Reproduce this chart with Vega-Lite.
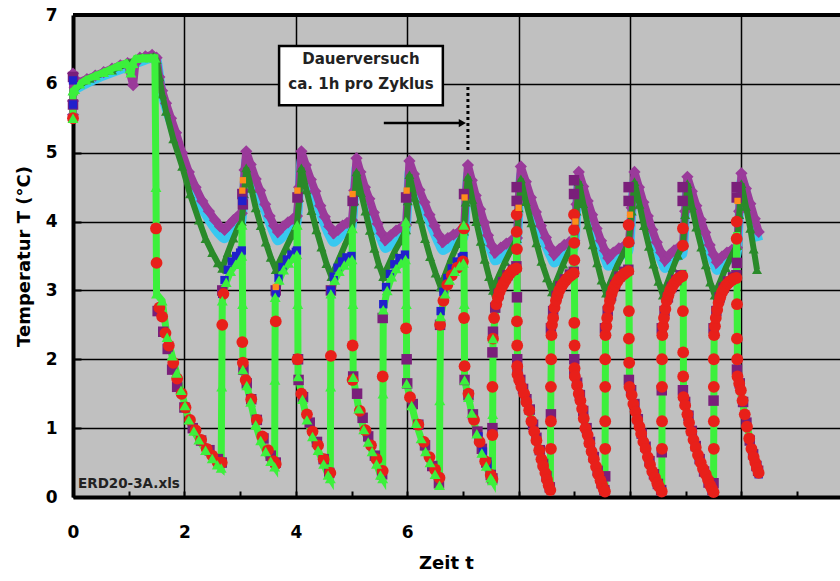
{
"$schema":"https://vega.github.io/schema/vega-lite/v6.json",
"width":767,"height":482,
"autosize":{"type":"none"},
"padding":{"left":73,"top":15,"right":0,"bottom":84},
"background":"#ffffff",
"config":{"view":{"fill":"#C0C0C0","stroke":null},
 "axis":{"domainColor":"#000","tickColor":"#000","gridColor":"#000","labelColor":"#000","titleColor":"#000","labelFont":"DejaVu Sans","titleFont":"DejaVu Sans","labelFontWeight":"bold","titleFontWeight":"bold"}},
"datasets":{
"purple":[{"t":0,"v":5.55},{"t":0,"v":5.75},{"t":0,"v":6.15},{"t":0.03,"v":5.95},{"t":0.1,"v":6.02},{"t":0.25,"v":6.07},{"t":0.4,"v":6.12},{"t":0.55,"v":6.17},{"t":0.7,"v":6.22},{"t":0.85,"v":6.27},{"t":0.98,"v":6.3},{"t":1.08,"v":5.98},{"t":1.12,"v":6.3},{"t":1.2,"v":6.38},{"t":1.3,"v":6.4},{"t":1.42,"v":6.42},{"t":1.5,"v":6.38},{"t":1.55,"v":6.1},{"t":1.6,"v":5.9},{"t":1.67,"v":5.72},{"t":1.76,"v":5.5},{"t":1.85,"v":5.29},{"t":1.96,"v":5.0},{"t":2.08,"v":4.72},{"t":2.2,"v":4.5},{"t":2.32,"v":4.3},{"t":2.44,"v":4.15},{"t":2.55,"v":4.02},{"t":2.64,"v":3.93},{"t":2.72,"v":3.88},{"t":2.8,"v":3.95},{"t":2.88,"v":4.02},{"t":2.96,"v":4.08},{"t":3.03,"v":4.12},{"t":3.06,"v":4.45},{"t":3.08,"v":4.75},{"t":3.11,"v":5.02},
{"t":3.19,"v":4.83},{"t":3.28,"v":4.62},{"t":3.36,"v":4.45},{"t":3.45,"v":4.25},{"t":3.53,"v":4.08},{"t":3.61,"v":3.94},{"t":3.68,"v":3.85},{"t":3.77,"v":3.93},{"t":3.86,"v":3.99},{"t":3.95,"v":4.04},{"t":4.02,"v":4.08},{"t":4.06,"v":4.5},{"t":4.1,"v":5.02},
{"t":4.18,"v":4.82},{"t":4.27,"v":4.61},{"t":4.35,"v":4.44},{"t":4.44,"v":4.23},{"t":4.52,"v":4.07},{"t":4.6,"v":3.93},{"t":4.68,"v":3.83},{"t":4.76,"v":3.88},{"t":4.84,"v":3.94},{"t":4.92,"v":3.98},{"t":5.01,"v":4.02},{"t":5.05,"v":4.45},{"t":5.09,"v":4.92},
{"t":5.16,"v":4.72},{"t":5.24,"v":4.5},{"t":5.32,"v":4.33},{"t":5.4,"v":4.13},{"t":5.47,"v":3.97},{"t":5.54,"v":3.83},{"t":5.61,"v":3.73},{"t":5.7,"v":3.8},{"t":5.8,"v":3.87},{"t":5.9,"v":3.92},{"t":5.98,"v":3.95},{"t":6.01,"v":4.4},{"t":6.04,"v":4.88},
{"t":6.12,"v":4.69},{"t":6.22,"v":4.46},{"t":6.31,"v":4.28},{"t":6.4,"v":4.1},{"t":6.49,"v":3.94},{"t":6.57,"v":3.8},{"t":6.64,"v":3.7},{"t":6.73,"v":3.76},{"t":6.83,"v":3.81},{"t":6.93,"v":3.85},{"t":7.02,"v":3.88},{"t":7.05,"v":4.35},{"t":7.09,"v":4.82},
{"t":7.16,"v":4.6},{"t":7.23,"v":4.38},{"t":7.31,"v":4.18},{"t":7.38,"v":3.99},{"t":7.45,"v":3.8},{"t":7.52,"v":3.65},{"t":7.58,"v":3.55},{"t":7.68,"v":3.62},{"t":7.78,"v":3.68},{"t":7.88,"v":3.73},{"t":7.97,"v":3.76},{"t":8.0,"v":4.3},{"t":8.04,"v":4.8},
{"t":8.13,"v":4.58},{"t":8.22,"v":4.35},{"t":8.31,"v":4.14},{"t":8.4,"v":3.94},{"t":8.49,"v":3.77},{"t":8.57,"v":3.62},{"t":8.64,"v":3.52},{"t":8.73,"v":3.6},{"t":8.82,"v":3.66},{"t":8.91,"v":3.7},{"t":9.0,"v":3.72},{"t":9.04,"v":4.25},{"t":9.08,"v":4.72},
{"t":9.16,"v":4.51},{"t":9.24,"v":4.3},{"t":9.32,"v":4.1},{"t":9.4,"v":3.9},{"t":9.48,"v":3.72},{"t":9.55,"v":3.58},{"t":9.61,"v":3.47},{"t":9.7,"v":3.55},{"t":9.8,"v":3.61},{"t":9.9,"v":3.65},{"t":9.98,"v":3.68},{"t":10.03,"v":4.2},{"t":10.08,"v":4.72},
{"t":10.16,"v":4.5},{"t":10.24,"v":4.28},{"t":10.32,"v":4.08},{"t":10.4,"v":3.88},{"t":10.48,"v":3.7},{"t":10.56,"v":3.55},{"t":10.63,"v":3.44},{"t":10.71,"v":3.52},{"t":10.79,"v":3.58},{"t":10.87,"v":3.62},{"t":10.95,"v":3.64},{"t":10.99,"v":4.15},{"t":11.03,"v":4.65},
{"t":11.11,"v":4.44},{"t":11.19,"v":4.23},{"t":11.27,"v":4.03},{"t":11.35,"v":3.84},{"t":11.43,"v":3.66},{"t":11.5,"v":3.52},{"t":11.56,"v":3.41},{"t":11.65,"v":3.49},{"t":11.74,"v":3.55},{"t":11.83,"v":3.59},{"t":11.92,"v":3.62},{"t":11.96,"v":4.15},{"t":12.0,"v":4.7},
{"t":12.08,"v":4.48},{"t":12.16,"v":4.26},{"t":12.24,"v":4.04},{"t":12.31,"v":3.85}],
"cyan":[{"t":0,"v":5.9},{"t":0.5,"v":6.1},{"t":1.0,"v":6.25},{"t":1.49,"v":6.38},{"t":1.6,"v":5.85},{"t":1.76,"v":5.42},{"t":1.96,"v":4.9},{"t":2.2,"v":4.38},{"t":2.44,"v":4.02},{"t":2.64,"v":3.8},{"t":2.72,"v":3.75},{"t":2.88,"v":3.9},{"t":3.03,"v":3.99},{"t":3.11,"v":4.9},
{"t":3.28,"v":4.55},{"t":3.45,"v":4.15},{"t":3.61,"v":3.82},{"t":3.68,"v":3.72},{"t":3.86,"v":3.87},{"t":4.02,"v":3.96},{"t":4.1,"v":4.9},
{"t":4.27,"v":4.54},{"t":4.44,"v":4.12},{"t":4.6,"v":3.8},{"t":4.68,"v":3.7},{"t":4.84,"v":3.82},{"t":5.01,"v":3.91},{"t":5.09,"v":4.8},
{"t":5.24,"v":4.42},{"t":5.4,"v":4.02},{"t":5.54,"v":3.72},{"t":5.61,"v":3.61},{"t":5.8,"v":3.75},{"t":5.98,"v":3.84},{"t":6.04,"v":4.75},
{"t":6.22,"v":4.38},{"t":6.4,"v":4.0},{"t":6.57,"v":3.68},{"t":6.64,"v":3.58},{"t":6.83,"v":3.69},{"t":7.02,"v":3.77},{"t":7.09,"v":4.7},
{"t":7.23,"v":4.3},{"t":7.38,"v":3.88},{"t":7.52,"v":3.54},{"t":7.58,"v":3.43},{"t":7.78,"v":3.56},{"t":7.97,"v":3.65},{"t":8.04,"v":4.68},
{"t":8.22,"v":4.27},{"t":8.4,"v":3.83},{"t":8.57,"v":3.5},{"t":8.64,"v":3.4},{"t":8.82,"v":3.54},{"t":9.0,"v":3.61},{"t":9.08,"v":4.6},
{"t":9.24,"v":4.22},{"t":9.4,"v":3.79},{"t":9.55,"v":3.46},{"t":9.61,"v":3.35},{"t":9.8,"v":3.49},{"t":9.98,"v":3.57},{"t":10.08,"v":4.6},
{"t":10.24,"v":4.2},{"t":10.4,"v":3.77},{"t":10.56,"v":3.43},{"t":10.63,"v":3.32},{"t":10.79,"v":3.46},{"t":10.95,"v":3.53},{"t":11.03,"v":4.55},
{"t":11.19,"v":4.15},{"t":11.35,"v":3.73},{"t":11.5,"v":3.4},{"t":11.56,"v":3.29},{"t":11.74,"v":3.43},{"t":11.92,"v":3.51},{"t":12.0,"v":4.6},
{"t":12.16,"v":4.18},{"t":12.31,"v":3.72}],
"green":[{"t":0,"v":5.9},{"t":0.3,"v":6.08},{"t":0.7,"v":6.2},{"t":1.0,"v":6.3},{"t":1.2,"v":6.38},{"t":1.45,"v":6.4},{"t":1.5,"v":6.35},{"t":1.55,"v":6.1},{"t":1.6,"v":5.85},{"t":1.67,"v":5.6},{"t":1.8,"v":5.2},{"t":1.96,"v":4.8},{"t":2.1,"v":4.4},{"t":2.26,"v":4.02},{"t":2.38,"v":3.75},{"t":2.5,"v":3.55},{"t":2.6,"v":3.4},{"t":2.68,"v":3.32},{"t":2.78,"v":3.55},{"t":2.88,"v":3.76},{"t":2.97,"v":3.93},{"t":3.03,"v":4.0},{"t":3.07,"v":4.4},{"t":3.11,"v":4.78},
{"t":3.2,"v":4.48},{"t":3.28,"v":4.2},{"t":3.37,"v":3.94},{"t":3.46,"v":3.7},{"t":3.55,"v":3.48},{"t":3.64,"v":3.3},{"t":3.73,"v":3.46},{"t":3.83,"v":3.63},{"t":3.93,"v":3.8},{"t":4.02,"v":3.95},{"t":4.06,"v":4.35},{"t":4.1,"v":4.78},
{"t":4.19,"v":4.46},{"t":4.28,"v":4.16},{"t":4.37,"v":3.88},{"t":4.46,"v":3.63},{"t":4.55,"v":3.39},{"t":4.64,"v":3.2},{"t":4.73,"v":3.37},{"t":4.82,"v":3.54},{"t":4.92,"v":3.73},{"t":5.01,"v":3.9},{"t":5.05,"v":4.3},{"t":5.09,"v":4.72},
{"t":5.17,"v":4.42},{"t":5.25,"v":4.15},{"t":5.33,"v":3.87},{"t":5.41,"v":3.61},{"t":5.49,"v":3.38},{"t":5.57,"v":3.2},{"t":5.67,"v":3.38},{"t":5.77,"v":3.56},{"t":5.88,"v":3.72},{"t":5.98,"v":3.88},{"t":6.01,"v":4.3},{"t":6.04,"v":4.68},
{"t":6.13,"v":4.35},{"t":6.23,"v":4.04},{"t":6.32,"v":3.75},{"t":6.41,"v":3.49},{"t":6.51,"v":3.25},{"t":6.6,"v":3.05},{"t":6.7,"v":3.27},{"t":6.8,"v":3.48},{"t":6.91,"v":3.68},{"t":7.02,"v":3.86},{"t":7.05,"v":4.28},{"t":7.09,"v":4.65},
{"t":7.17,"v":4.32},{"t":7.24,"v":4.0},{"t":7.32,"v":3.71},{"t":7.39,"v":3.45},{"t":7.47,"v":3.2},{"t":7.54,"v":3.0},{"t":7.65,"v":3.22},{"t":7.76,"v":3.42},{"t":7.87,"v":3.6},{"t":7.97,"v":3.75},{"t":8.0,"v":4.2},{"t":8.04,"v":4.62},
{"t":8.13,"v":4.29},{"t":8.23,"v":3.98},{"t":8.32,"v":3.69},{"t":8.41,"v":3.42},{"t":8.51,"v":3.18},{"t":8.6,"v":2.98},{"t":8.7,"v":3.18},{"t":8.8,"v":3.38},{"t":8.9,"v":3.56},{"t":9.0,"v":3.72},{"t":9.04,"v":4.15},{"t":9.08,"v":4.58},
{"t":9.16,"v":4.26},{"t":9.24,"v":3.95},{"t":9.33,"v":3.66},{"t":9.41,"v":3.4},{"t":9.49,"v":3.15},{"t":9.57,"v":2.96},{"t":9.67,"v":3.16},{"t":9.77,"v":3.36},{"t":9.88,"v":3.54},{"t":9.98,"v":3.7},{"t":10.03,"v":4.15},{"t":10.08,"v":4.58},
{"t":10.17,"v":4.25},{"t":10.25,"v":3.94},{"t":10.34,"v":3.64},{"t":10.42,"v":3.38},{"t":10.51,"v":3.13},{"t":10.59,"v":2.93},{"t":10.68,"v":3.13},{"t":10.77,"v":3.33},{"t":10.86,"v":3.51},{"t":10.95,"v":3.66},{"t":10.99,"v":4.1},{"t":11.03,"v":4.55},
{"t":11.11,"v":4.23},{"t":11.19,"v":3.92},{"t":11.28,"v":3.63},{"t":11.36,"v":3.37},{"t":11.44,"v":3.12},{"t":11.52,"v":2.93},{"t":11.62,"v":3.13},{"t":11.72,"v":3.33},{"t":11.82,"v":3.5},{"t":11.92,"v":3.65},{"t":11.96,"v":4.1},{"t":12.0,"v":4.55},
{"t":12.08,"v":4.22},{"t":12.16,"v":3.9},{"t":12.22,"v":3.6},{"t":12.28,"v":3.3}],
"lime":[{"t":0,"v":5.5},{"t":0,"v":5.9},{"t":0.03,"v":5.92},{"t":0.12,"v":6.0},{"t":0.23,"v":6.06},{"t":0.4,"v":6.12},{"t":0.55,"v":6.17},{"t":0.65,"v":6.2},{"t":0.8,"v":6.26},{"t":0.95,"v":6.3},{"t":1.02,"v":6.22},{"t":1.04,"v":6.16},{"t":1.08,"v":6.3},{"t":1.13,"v":6.37},{"t":1.25,"v":6.38},{"t":1.4,"v":6.38},{"t":1.47,"v":6.38},{"t":1.49,"v":4.5},{"t":1.5,"v":2.95},{"t":1.6,"v":2.85},{"t":1.69,"v":2.32},{"t":1.78,"v":2.05},{"t":1.86,"v":1.8},{"t":1.94,"v":1.55},{"t":2.01,"v":1.33},{"t":2.08,"v":1.12},{"t":2.17,"v":0.96},{"t":2.26,"v":0.83},{"t":2.38,"v":0.68},{"t":2.5,"v":0.56},{"t":2.59,"v":0.47},{"t":2.66,"v":0.42},
{"t":2.67,"v":1.6},{"t":2.68,"v":2.85},{"t":2.75,"v":3.12},{"t":2.83,"v":3.28},{"t":2.92,"v":3.38},{"t":3.0,"v":3.44},{"t":3.03,"v":3.5},{"t":3.035,"v":3.95},{"t":3.045,"v":2.8},{"t":3.05,"v":1.85},{"t":3.12,"v":1.62},{"t":3.19,"v":1.38},{"t":3.28,"v":1.05},{"t":3.37,"v":0.82},{"t":3.46,"v":0.66},{"t":3.55,"v":0.52},{"t":3.62,"v":0.44},
{"t":3.625,"v":1.7},{"t":3.63,"v":2.9},{"t":3.7,"v":3.15},{"t":3.78,"v":3.3},{"t":3.87,"v":3.4},{"t":3.95,"v":3.47},{"t":4.02,"v":3.52},{"t":4.025,"v":3.95},{"t":4.035,"v":2.8},{"t":4.04,"v":1.75},{"t":4.12,"v":1.42},{"t":4.2,"v":1.12},{"t":4.3,"v":0.88},{"t":4.4,"v":0.68},{"t":4.5,"v":0.48},{"t":4.58,"v":0.32},{"t":4.62,"v":0.27},
{"t":4.625,"v":1.6},{"t":4.63,"v":2.95},{"t":4.7,"v":3.15},{"t":4.78,"v":3.28},{"t":4.87,"v":3.37},{"t":4.95,"v":3.42},{"t":5.01,"v":3.45},{"t":5.015,"v":3.9},{"t":5.025,"v":2.8},{"t":5.03,"v":1.74},{"t":5.13,"v":1.28},{"t":5.22,"v":0.98},{"t":5.3,"v":0.8},{"t":5.37,"v":0.66},{"t":5.45,"v":0.48},{"t":5.52,"v":0.32},{"t":5.56,"v":0.27},
{"t":5.565,"v":1.5},{"t":5.57,"v":2.72},{"t":5.64,"v":3.0},{"t":5.72,"v":3.2},{"t":5.8,"v":3.32},{"t":5.89,"v":3.4},{"t":5.97,"v":3.45},{"t":5.975,"v":4.0},{"t":5.985,"v":2.8},{"t":5.99,"v":1.65},{"t":6.08,"v":1.33},{"t":6.16,"v":1.07},{"t":6.25,"v":0.85},{"t":6.33,"v":0.66},{"t":6.41,"v":0.5},{"t":6.5,"v":0.33},{"t":6.58,"v":0.17},
{"t":6.585,"v":1.4},{"t":6.6,"v":2.62},{"t":6.68,"v":2.95},{"t":6.76,"v":3.15},{"t":6.85,"v":3.28},{"t":6.94,"v":3.36},{"t":7.01,"v":3.4},{"t":7.015,"v":3.95},{"t":7.025,"v":2.8},{"t":7.03,"v":1.7},{"t":7.1,"v":1.45},{"t":7.16,"v":1.22},{"t":7.25,"v":0.92},{"t":7.34,"v":0.64},{"t":7.42,"v":0.45},{"t":7.5,"v":0.28},{"t":7.53,"v":0.24},
{"t":7.535,"v":1.2},{"t":7.54,"v":2.3},{"t":7.6,"v":2.8},{"t":7.73,"v":3.1},{"t":7.88,"v":3.28},{"t":7.96,"v":3.32},{"t":7.965,"v":3.9},{"t":7.975,"v":2.8},{"t":7.98,"v":1.7},{"t":8.1,"v":1.5},{"t":8.19,"v":1.26},{"t":8.28,"v":0.95},{"t":8.37,"v":0.68},{"t":8.44,"v":0.45},{"t":8.51,"v":0.25},{"t":8.57,"v":0.1},
{"t":8.575,"v":1.2},{"t":8.59,"v":2.35},{"t":8.67,"v":2.85},{"t":8.8,"v":3.1},{"t":8.94,"v":3.22},{"t":8.99,"v":3.25},{"t":8.995,"v":3.8},{"t":9.005,"v":2.8},{"t":9.01,"v":1.75},{"t":9.14,"v":1.28},{"t":9.27,"v":0.78},{"t":9.43,"v":0.33},{"t":9.55,"v":0.08},
{"t":9.555,"v":1.2},{"t":9.56,"v":2.35},{"t":9.64,"v":2.85},{"t":9.77,"v":3.13},{"t":9.91,"v":3.25},{"t":9.97,"v":3.28},{"t":9.975,"v":3.65},{"t":9.985,"v":2.6},{"t":9.99,"v":1.6},{"t":10.13,"v":1.12},{"t":10.28,"v":0.7},{"t":10.45,"v":0.28},{"t":10.57,"v":0.08},
{"t":10.575,"v":1.2},{"t":10.58,"v":2.35},{"t":10.66,"v":2.85},{"t":10.79,"v":3.1},{"t":10.92,"v":3.2},{"t":10.95,"v":3.25},{"t":10.955,"v":3.3},{"t":10.96,"v":1.45},{"t":11.1,"v":0.95},{"t":11.27,"v":0.5},{"t":11.44,"v":0.17},{"t":11.5,"v":0.07},
{"t":11.505,"v":1.2},{"t":11.51,"v":2.35},{"t":11.59,"v":2.82},{"t":11.72,"v":3.07},{"t":11.86,"v":3.17},{"t":11.91,"v":3.18},{"t":11.915,"v":3.85},{"t":11.925,"v":2.6},{"t":11.93,"v":1.75},{"t":12.06,"v":1.2},{"t":12.22,"v":0.58},{"t":12.31,"v":0.35}],
"psq":[{"t":0,"v":5.7},{"t":0,"v":6.1},{"t":1.52,"v":2.7},{"t":1.62,"v":2.4},{"t":1.7,"v":2.15},{"t":1.78,"v":1.85},{"t":1.87,"v":1.6},{"t":2.0,"v":1.3},{"t":2.15,"v":1.0},{"t":2.3,"v":0.82},{"t":2.45,"v":0.68},{"t":2.6,"v":0.55},{"t":2.67,"v":0.5},{"t":2.68,"v":3.0},{"t":3.04,"v":4.4},{"t":3.05,"v":4.25},{"t":3.06,"v":1.85},{"t":3.12,"v":1.65},{"t":3.2,"v":1.42},{"t":3.3,"v":1.12},{"t":3.42,"v":0.85},{"t":3.55,"v":0.6},{"t":3.64,"v":0.5},{"t":3.64,"v":3.0},{"t":4.03,"v":4.35},{"t":4.04,"v":2.0},{"t":4.05,"v":1.7},{"t":4.13,"v":1.45},{"t":4.25,"v":1.08},{"t":4.38,"v":0.8},{"t":4.5,"v":0.55},{"t":4.6,"v":0.35},{"t":4.63,"v":3.0},{"t":5.02,"v":4.3},{"t":5.03,"v":1.75},{"t":5.1,"v":1.5},{"t":5.2,"v":1.15},{"t":5.3,"v":0.88},{"t":5.42,"v":0.6},{"t":5.55,"v":0.33},{"t":5.56,"v":2.6},{"t":5.98,"v":4.35},{"t":5.99,"v":2.0},{"t":6.0,"v":1.65},{"t":6.1,"v":1.35},{"t":6.2,"v":1.05},{"t":6.32,"v":0.75},{"t":6.45,"v":0.45},{"t":6.57,"v":0.2},{"t":6.59,"v":2.5},{"t":7.02,"v":4.4},{"t":7.03,"v":1.7},{"t":7.1,"v":1.48},{"t":7.18,"v":1.2},{"t":7.26,"v":0.95},{"t":7.34,"v":0.7},{"t":7.42,"v":0.5},{"t":7.5,"v":0.32},{"t":7.53,"v":0.27},{"t":7.53,"v":1.0},{"t":7.53,"v":2.1},
{"t":7.54,"v":2.4},{"t":7.58,"v":2.75},{"t":7.64,"v":2.95},{"t":7.72,"v":3.12},{"t":7.8,"v":3.22},{"t":7.9,"v":3.3},{"t":7.96,"v":3.35},{"t":7.965,"v":4.5},{"t":7.965,"v":4.3},{"t":7.97,"v":2.9},{"t":7.975,"v":2.0},{"t":7.98,"v":1.85},{"t":8.03,"v":1.7},{"t":8.08,"v":1.57},{"t":8.14,"v":1.42},{"t":8.2,"v":1.27},{"t":8.26,"v":1.05},{"t":8.32,"v":0.86},{"t":8.38,"v":0.68},{"t":8.44,"v":0.48},{"t":8.5,"v":0.3},{"t":8.56,"v":0.14},{"t":8.58,"v":1.2},
{"t":8.58,"v":2.45},{"t":8.62,"v":2.7},{"t":8.68,"v":2.92},{"t":8.75,"v":3.06},{"t":8.83,"v":3.16},{"t":8.92,"v":3.23},{"t":8.99,"v":3.27},{"t":8.995,"v":4.6},{"t":8.995,"v":4.4},{"t":9.0,"v":2.0},{"t":9.0,"v":1.8},{"t":9.05,"v":1.66},{"t":9.1,"v":1.48},{"t":9.16,"v":1.25},{"t":9.22,"v":1.0},{"t":9.28,"v":0.8},{"t":9.35,"v":0.58},{"t":9.42,"v":0.38},{"t":9.49,"v":0.2},{"t":9.54,"v":0.1},{"t":9.555,"v":0.3},
{"t":9.55,"v":2.45},{"t":9.6,"v":2.7},{"t":9.66,"v":2.92},{"t":9.73,"v":3.08},{"t":9.81,"v":3.2},{"t":9.9,"v":3.27},{"t":9.97,"v":3.3},{"t":9.975,"v":4.5},{"t":9.975,"v":4.3},{"t":9.98,"v":1.7},{"t":10.02,"v":1.55},{"t":10.08,"v":1.35},{"t":10.14,"v":1.13},{"t":10.21,"v":0.92},{"t":10.28,"v":0.73},{"t":10.35,"v":0.52},{"t":10.43,"v":0.33},{"t":10.5,"v":0.19},{"t":10.56,"v":0.1},{"t":10.57,"v":0.65},{"t":10.57,"v":1.55},
{"t":10.57,"v":2.45},{"t":10.62,"v":2.7},{"t":10.68,"v":2.9},{"t":10.75,"v":3.05},{"t":10.83,"v":3.15},{"t":10.91,"v":3.22},{"t":10.945,"v":4.5},{"t":10.945,"v":4.3},{"t":10.95,"v":1.55},{"t":10.99,"v":1.38},{"t":11.05,"v":1.18},{"t":11.11,"v":0.96},{"t":11.18,"v":0.74},{"t":11.25,"v":0.55},{"t":11.33,"v":0.37},{"t":11.41,"v":0.21},{"t":11.48,"v":0.1},{"t":11.5,"v":0.2},{"t":11.5,"v":1.4},
{"t":11.5,"v":2.45},{"t":11.55,"v":2.7},{"t":11.61,"v":2.9},{"t":11.68,"v":3.04},{"t":11.76,"v":3.13},{"t":11.85,"v":3.19},{"t":11.91,"v":3.22},{"t":11.915,"v":4.5},{"t":11.915,"v":4.35},{"t":11.92,"v":3.4},{"t":11.92,"v":1.85},{"t":11.97,"v":1.65},{"t":12.03,"v":1.38},{"t":12.09,"v":1.08},{"t":12.15,"v":0.82},{"t":12.21,"v":0.62},{"t":12.27,"v":0.45},{"t":12.3,"v":0.38}],
"blue":[{"t":0,"v":6.05},{"t":0,"v":5.7},{"t":2.68,"v":2.95},{"t":2.72,"v":3.15},{"t":2.78,"v":3.3},{"t":2.85,"v":3.42},{"t":2.93,"v":3.5},{"t":3.0,"v":3.55},{"t":3.03,"v":3.58},{"t":3.04,"v":4.3},
{"t":3.64,"v":2.96},{"t":3.69,"v":3.18},{"t":3.76,"v":3.34},{"t":3.84,"v":3.45},{"t":3.92,"v":3.52},{"t":4.0,"v":3.56},{"t":4.02,"v":3.58},
{"t":4.63,"v":3.0},{"t":4.68,"v":3.2},{"t":4.75,"v":3.33},{"t":4.83,"v":3.42},{"t":4.91,"v":3.48},{"t":5.0,"v":3.5},
{"t":5.57,"v":2.8},{"t":5.62,"v":3.05},{"t":5.69,"v":3.24},{"t":5.77,"v":3.38},{"t":5.86,"v":3.47},{"t":5.96,"v":3.52},
{"t":6.6,"v":2.7},{"t":6.65,"v":2.98},{"t":6.72,"v":3.18},{"t":6.8,"v":3.32},{"t":6.89,"v":3.42},{"t":6.98,"v":3.48},{"t":7.01,"v":3.5},
{"t":7.2,"v":1.12},{"t":7.28,"v":0.88},{"t":7.36,"v":0.66},{"t":7.44,"v":0.47},{"t":7.5,"v":0.33},{"t":7.52,"v":0.29},
{"t":8.57,"v":0.12},{"t":9.55,"v":0.1},{"t":10.57,"v":0.1},{"t":12.31,"v":0.33},{"t":12.3,"v":0.36}],
"red":[{"t":0,"v":5.5},{"t":1.49,"v":3.9},{"t":1.5,"v":3.4},{"t":1.55,"v":2.75},{"t":1.6,"v":2.62},{"t":1.66,"v":2.38},{"t":1.72,"v":2.2},{"t":1.8,"v":1.95},{"t":1.87,"v":1.72},{"t":1.95,"v":1.5},{"t":2.02,"v":1.3},{"t":2.1,"v":1.12},{"t":2.2,"v":0.97},{"t":2.3,"v":0.83},{"t":2.4,"v":0.7},{"t":2.5,"v":0.6},{"t":2.6,"v":0.5},{"t":2.67,"v":0.5},{"t":2.68,"v":2.5},{"t":2.7,"v":2.95},{"t":3.04,"v":2.25},{"t":3.05,"v":1.95},{"t":3.1,"v":1.7},{"t":3.2,"v":1.42},{"t":3.3,"v":1.12},{"t":3.4,"v":0.88},{"t":3.5,"v":0.68},{"t":3.6,"v":0.52},{"t":3.64,"v":0.48},{"t":3.64,"v":2.55},{"t":4.03,"v":2.0},{"t":4.1,"v":1.5},{"t":4.2,"v":1.2},{"t":4.3,"v":0.95},{"t":4.4,"v":0.75},{"t":4.5,"v":0.55},{"t":4.62,"v":0.35},{"t":4.63,"v":2.05},{"t":5.02,"v":1.7},{"t":5.02,"v":2.2},{"t":5.15,"v":1.25},{"t":5.25,"v":0.97},{"t":5.35,"v":0.75},{"t":5.45,"v":0.55},{"t":5.56,"v":0.38},{"t":5.56,"v":1.75},{"t":5.98,"v":2.45},{"t":6.05,"v":1.45},{"t":6.2,"v":1.05},{"t":6.3,"v":0.8},{"t":6.4,"v":0.58},{"t":6.5,"v":0.4},{"t":6.58,"v":0.28},{"t":6.59,"v":2.5},{"t":6.65,"v":2.85},{"t":6.72,"v":3.08},{"t":6.8,"v":3.22},{"t":6.9,"v":3.33},{"t":7.0,"v":3.42},{"t":7.02,"v":3.9},{"t":7.02,"v":2.6},{"t":7.03,"v":1.9},{"t":7.1,"v":1.5},{"t":7.2,"v":1.12},{"t":7.3,"v":0.8},{"t":7.4,"v":0.52},{"t":7.5,"v":0.32},{"t":7.53,"v":0.26},{"t":7.53,"v":0.9},{"t":7.53,"v":1.6},
{"t":7.54,"v":2.3},{"t":7.56,"v":2.6},{"t":7.6,"v":2.8},{"t":7.63,"v":2.9},{"t":7.66,"v":2.98},{"t":7.7,"v":3.05},{"t":7.73,"v":3.1},{"t":7.77,"v":3.15},{"t":7.8,"v":3.2},{"t":7.84,"v":3.24},{"t":7.88,"v":3.28},{"t":7.92,"v":3.3},{"t":7.96,"v":3.32},
{"t":7.965,"v":4.1},{"t":7.965,"v":3.85},{"t":7.97,"v":3.6},{"t":7.97,"v":2.55},{"t":7.975,"v":2.2},{"t":7.975,"v":1.9},
{"t":7.98,"v":1.78},{"t":8.01,"v":1.7},{"t":8.05,"v":1.6},{"t":8.1,"v":1.5},{"t":8.14,"v":1.38},{"t":8.19,"v":1.26},{"t":8.23,"v":1.1},{"t":8.28,"v":0.95},{"t":8.32,"v":0.82},{"t":8.37,"v":0.68},{"t":8.41,"v":0.55},{"t":8.44,"v":0.45},{"t":8.48,"v":0.35},{"t":8.51,"v":0.25},{"t":8.54,"v":0.17},{"t":8.57,"v":0.1},
{"t":8.58,"v":0.7},{"t":8.58,"v":1.1},{"t":8.58,"v":1.6},{"t":8.585,"v":2.0},
{"t":8.59,"v":2.35},{"t":8.6,"v":2.5},{"t":8.62,"v":2.6},{"t":8.645,"v":2.75},{"t":8.67,"v":2.85},{"t":8.7,"v":2.93},{"t":8.73,"v":3.0},{"t":8.77,"v":3.06},{"t":8.8,"v":3.1},{"t":8.84,"v":3.14},{"t":8.87,"v":3.17},{"t":8.91,"v":3.2},{"t":8.94,"v":3.22},{"t":8.99,"v":3.25},
{"t":8.995,"v":4.1},{"t":8.995,"v":3.88},{"t":9.0,"v":3.69},{"t":9.0,"v":3.44},{"t":9.0,"v":2.53},{"t":9.005,"v":2.2},{"t":9.005,"v":1.87},
{"t":9.01,"v":1.75},{"t":9.05,"v":1.62},{"t":9.08,"v":1.5},{"t":9.11,"v":1.4},{"t":9.14,"v":1.28},{"t":9.17,"v":1.14},{"t":9.2,"v":1.0},{"t":9.24,"v":0.9},{"t":9.27,"v":0.78},{"t":9.31,"v":0.66},{"t":9.35,"v":0.55},{"t":9.39,"v":0.44},{"t":9.43,"v":0.33},{"t":9.47,"v":0.24},{"t":9.5,"v":0.17},{"t":9.53,"v":0.11},{"t":9.55,"v":0.08},
{"t":9.555,"v":0.7},{"t":9.555,"v":1.1},{"t":9.555,"v":1.6},{"t":9.555,"v":2.0},
{"t":9.56,"v":2.35},{"t":9.575,"v":2.48},{"t":9.59,"v":2.6},{"t":9.615,"v":2.75},{"t":9.64,"v":2.85},{"t":9.67,"v":2.95},{"t":9.7,"v":3.02},{"t":9.735,"v":3.08},{"t":9.77,"v":3.13},{"t":9.8,"v":3.17},{"t":9.84,"v":3.2},{"t":9.88,"v":3.23},{"t":9.91,"v":3.25},{"t":9.97,"v":3.28},
{"t":9.975,"v":3.95},{"t":9.975,"v":3.7},{"t":9.98,"v":2.7},{"t":9.98,"v":2.3},{"t":9.985,"v":1.95},
{"t":9.99,"v":1.6},{"t":10.03,"v":1.48},{"t":10.06,"v":1.35},{"t":10.1,"v":1.24},{"t":10.13,"v":1.12},{"t":10.17,"v":1.02},{"t":10.2,"v":0.92},{"t":10.24,"v":0.8},{"t":10.28,"v":0.7},{"t":10.32,"v":0.58},{"t":10.36,"v":0.47},{"t":10.4,"v":0.37},{"t":10.45,"v":0.28},{"t":10.49,"v":0.2},{"t":10.52,"v":0.15},{"t":10.57,"v":0.08},
{"t":10.575,"v":0.7},{"t":10.575,"v":1.1},{"t":10.575,"v":1.6},{"t":10.575,"v":2.0},
{"t":10.58,"v":2.35},{"t":10.595,"v":2.48},{"t":10.61,"v":2.6},{"t":10.635,"v":2.73},{"t":10.66,"v":2.85},{"t":10.69,"v":2.93},{"t":10.72,"v":3.0},{"t":10.755,"v":3.05},{"t":10.79,"v":3.1},{"t":10.83,"v":3.14},{"t":10.86,"v":3.17},{"t":10.9,"v":3.19},{"t":10.94,"v":3.21},
{"t":10.95,"v":3.9},{"t":10.95,"v":3.65},{"t":10.95,"v":2.7},{"t":10.955,"v":2.1},{"t":10.955,"v":1.75},
{"t":10.96,"v":1.45},{"t":10.99,"v":1.33},{"t":11.03,"v":1.2},{"t":11.06,"v":1.08},{"t":11.1,"v":0.95},{"t":11.14,"v":0.83},{"t":11.18,"v":0.72},{"t":11.22,"v":0.61},{"t":11.27,"v":0.5},{"t":11.31,"v":0.41},{"t":11.36,"v":0.33},{"t":11.4,"v":0.25},{"t":11.44,"v":0.17},{"t":11.47,"v":0.12},{"t":11.5,"v":0.07},
{"t":11.505,"v":0.7},{"t":11.505,"v":1.1},{"t":11.505,"v":1.6},{"t":11.505,"v":2.0},
{"t":11.51,"v":2.35},{"t":11.525,"v":2.48},{"t":11.54,"v":2.6},{"t":11.565,"v":2.72},{"t":11.59,"v":2.82},{"t":11.62,"v":2.9},{"t":11.65,"v":2.97},{"t":11.685,"v":3.02},{"t":11.72,"v":3.07},{"t":11.755,"v":3.1},{"t":11.79,"v":3.13},{"t":11.83,"v":3.15},{"t":11.86,"v":3.17},{"t":11.91,"v":3.18},
{"t":11.915,"v":4.0},{"t":11.915,"v":3.75},{"t":11.92,"v":2.8},{"t":11.92,"v":2.3},{"t":11.925,"v":2.0},
{"t":11.93,"v":1.75},{"t":11.96,"v":1.65},{"t":11.99,"v":1.55},{"t":12.02,"v":1.4},{"t":12.06,"v":1.2},{"t":12.1,"v":1.02},{"t":12.14,"v":0.85},{"t":12.18,"v":0.7},{"t":12.22,"v":0.58},{"t":12.25,"v":0.5},{"t":12.28,"v":0.42},{"t":12.31,"v":0.35}],
"orange":[{"t":3.04,"v":4.45},{"t":3.05,"v":4.6},{"t":3.64,"v":3.05},{"t":4.03,"v":4.45},{"t":5.02,"v":4.4},{"t":5.99,"v":4.45},{"t":7.03,"v":4.35},{"t":8.0,"v":4.2},{"t":9.02,"v":4.0},{"t":10.0,"v":4.1},{"t":11.93,"v":4.3}]
},
"layer":[
{"data":{"name":"cyan"},"mark":{"type":"line","color":"#38c8f0","strokeWidth":9,"interpolate":"monotone"},
 "encoding":{
  "x":{"field":"t","type":"quantitative","scale":{"domain":[0,13.77],"nice":false,"zero":false},
   "axis":{"orient":"bottom","values":[0,0.5,1,1.5,2,2.5,3,3.5,4,4.5,5,5.5,6,6.5,7,7.5,8,8.5,9,9.5,10,10.5,11,11.5,12,12.5,13,13.5],"format":"d",
    "grid":true,"gridWidth":1.5,"gridOpacity":{"condition":{"test":"datum.value % 2 === 0","value":1},"value":0},
    "ticks":true,"tickSize":-6,"tickWidth":2,"domain":true,"domainWidth":4,
    "labelExpr":"(datum.value % 2 === 0 && datum.value <= 6) ? datum.label : ''","labelFontSize":17,"labelPadding":33,"labelFlush":false,"labelOverlap":false,
    "title":"Zeit t","titleFontSize":18,"titlePadding":14,"titleX":373}},
  "y":{"field":"v","type":"quantitative","scale":{"domain":[0,7],"nice":false,"zero":false},
   "axis":{"orient":"left","values":[0,0.5,1,1.5,2,2.5,3,3.5,4,4.5,5,5.5,6,6.5,7],"format":"d",
    "grid":true,"gridWidth":1.5,"gridOpacity":{"condition":{"test":"datum.value % 1 === 0","value":1},"value":0},
    "ticks":true,"tickSize":-8,"tickWidth":2,"domain":true,"domainWidth":4,
    "labelExpr":"datum.value % 1 === 0 ? datum.label : ''","labelFontSize":17,"labelPadding":24,"labelFlush":false,"labelOverlap":false,
    "title":"Temperatur T (°C)","titleFontSize":18,"titlePadding":12}},
  "order":{"value":null}}},
{"data":{"name":"purple"},"mark":{"type":"line","color":"#9a3a9a","strokeWidth":8},
 "encoding":{"x":{"field":"t","type":"quantitative"},"y":{"field":"v","type":"quantitative"},"order":{"value":null}}},
{"data":{"name":"purple"},"mark":{"type":"point","shape":"diamond","filled":true,"color":"#9a3a9a","size":150,"opacity":1},
 "encoding":{"x":{"field":"t","type":"quantitative"},"y":{"field":"v","type":"quantitative"}}},
{"data":{"name":"green"},"mark":{"type":"line","color":"#2a8a2a","strokeWidth":6},
 "encoding":{"x":{"field":"t","type":"quantitative"},"y":{"field":"v","type":"quantitative"},"order":{"value":null}}},
{"data":{"name":"green"},"mark":{"type":"point","shape":"triangle-up","filled":true,"color":"#2a8a2a","size":100,"opacity":1},
 "encoding":{"x":{"field":"t","type":"quantitative"},"y":{"field":"v","type":"quantitative"}}},
{"data":{"name":"lime"},"mark":{"type":"line","color":"#3cf03c","strokeWidth":7},
 "encoding":{"x":{"field":"t","type":"quantitative"},"y":{"field":"v","type":"quantitative"},"order":{"value":null}}},
{"data":{"name":"psq"},"mark":{"type":"point","shape":"square","filled":true,"color":"#7a1f7a","size":110,"opacity":1},
 "encoding":{"x":{"field":"t","type":"quantitative"},"y":{"field":"v","type":"quantitative"}}},
{"data":{"name":"blue"},"mark":{"type":"point","shape":"square","filled":true,"color":"#2020cc","size":70,"opacity":1},
 "encoding":{"x":{"field":"t","type":"quantitative"},"y":{"field":"v","type":"quantitative"}}},
{"data":{"name":"red"},"mark":{"type":"point","shape":"circle","filled":true,"color":"#e8201a","size":140,"opacity":1},
 "encoding":{"x":{"field":"t","type":"quantitative"},"y":{"field":"v","type":"quantitative"}}},
{"data":{"name":"lime"},"transform":[{"filter":"datum.t <= 7.56"}],"mark":{"type":"point","shape":"triangle-up","filled":true,"color":"#3cf03c","size":120,"opacity":1},
 "encoding":{"x":{"field":"t","type":"quantitative"},"y":{"field":"v","type":"quantitative"}}},
{"data":{"name":"orange"},"mark":{"type":"point","shape":"square","filled":true,"color":"#ff8c1a","size":40,"opacity":1},
 "encoding":{"x":{"field":"t","type":"quantitative"},"y":{"field":"v","type":"quantitative"}}},
{"data":{"values":[{"n":1}]},"mark":{"type":"rule","color":"#000","strokeWidth":4},
 "encoding":{"y":{"datum":7,"type":"quantitative"}}},
{"data":{"values":[{"n":1}]},"mark":{"type":"rect","fill":"#ffffff","stroke":"#000","strokeWidth":2.5},
 "encoding":{"x":{"datum":3.7,"type":"quantitative"},"x2":{"datum":6.64},"y":{"datum":5.69,"type":"quantitative"},"y2":{"datum":6.55}}},
{"data":{"values":[{"n":1}]},"mark":{"type":"text","font":"DejaVu Sans","fontWeight":"bold","fontSize":15,"color":"#222","align":"center","baseline":"middle"},
 "encoding":{"x":{"datum":5.17,"type":"quantitative"},"y":{"datum":6.36,"type":"quantitative"},"text":{"value":"Dauerversuch"}}},
{"data":{"values":[{"n":1}]},"mark":{"type":"text","font":"DejaVu Sans","fontWeight":"bold","fontSize":15,"color":"#222","align":"center","baseline":"middle"},
 "encoding":{"x":{"datum":5.17,"type":"quantitative"},"y":{"datum":6.0,"type":"quantitative"},"text":{"value":"ca. 1h pro Zyklus"}}},
{"data":{"values":[{"n":1}]},"mark":{"type":"rule","color":"#000","strokeWidth":2.5},
 "encoding":{"x":{"datum":5.58,"type":"quantitative"},"x2":{"datum":6.98},"y":{"datum":5.43,"type":"quantitative"}}},
{"data":{"values":[{"n":1}]},"mark":{"type":"point","shape":"triangle-right","filled":true,"color":"#000","size":70,"opacity":1},
 "encoding":{"x":{"datum":6.99,"type":"quantitative"},"y":{"datum":5.43,"type":"quantitative"}}},
{"data":{"values":[{"n":1}]},"mark":{"type":"rule","color":"#000","strokeWidth":3,"strokeDash":[3,3]},
 "encoding":{"x":{"datum":7.09,"type":"quantitative"},"y":{"datum":5.04,"type":"quantitative"},"y2":{"datum":5.99}}},
{"data":{"values":[{"n":1}]},"mark":{"type":"text","font":"DejaVu Sans","fontWeight":"bold","fontSize":13.5,"color":"#222","align":"left","baseline":"middle"},
 "encoding":{"x":{"datum":0.09,"type":"quantitative"},"y":{"datum":0.19,"type":"quantitative"},"text":{"value":"ERD20-3A.xls"}}}
]
}
